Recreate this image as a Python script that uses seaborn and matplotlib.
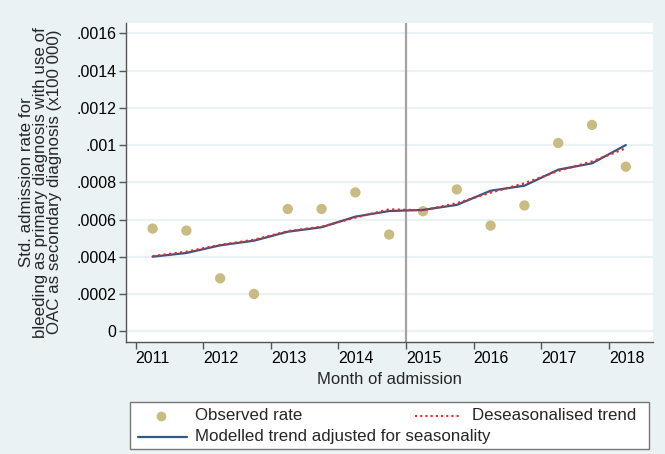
import numpy as np
import pandas as pd
import matplotlib
matplotlib.use("Agg")
import matplotlib.pyplot as plt
import matplotlib.transforms as mtrans
import seaborn as sns
from matplotlib.lines import Line2D
from matplotlib.patches import Rectangle

# ---- data ----
time = [2011.25, 2011.75, 2012.25, 2012.75, 2013.25, 2013.75, 2014.25, 2014.75,
        2015.25, 2015.75, 2016.25, 2016.75, 2017.25, 2017.75, 2018.25]
observed = [0.000552, 0.000541, 0.000285, 0.000201, 0.000657, 0.000657, 0.000746, 0.000520,
            0.000645, 0.000762, 0.000568, 0.000676, 0.001011, 0.001108, 0.000884]
modelled = [0.000401, 0.000421, 0.000462, 0.000487, 0.000535, 0.000559, 0.000616, 0.000646,
            0.000652, 0.000679, 0.000755, 0.000782, 0.000868, 0.000902, 0.001000]
deseason = [0.000404, 0.000428, 0.000464, 0.000492, 0.000538, 0.000562, 0.000611, 0.000655,
            0.000650, 0.000688, 0.000745, 0.000795, 0.000861, 0.000912, 0.000983]
year_ticks = [2011, 2012, 2013, 2014, 2015, 2016, 2017, 2018]
y_ticks = [0, 0.0002, 0.0004, 0.0006, 0.0008, 0.001, 0.0012, 0.0014, 0.0016]
y_tick_labels = ["0", ".0002", ".0004", ".0006", ".0008", ".001", ".0012", ".0014", ".0016"]
break_year = 2015

df = pd.DataFrame({"time": time, "observed": observed,
                   "modelled": modelled, "deseason": deseason})

sns.set_theme(style="white")
plt.rcParams['font.family'] = ['Liberation Sans', 'DejaVu Sans']

BG = "#EAF2F3"
MARK = "#C9BC82"
BLUE = "#2F5A86"
RED = "#FF2020"

fig = plt.figure(figsize=(6.65, 4.54), dpi=100, facecolor=BG)
ax = fig.add_axes([126/665, 1 - 341.5/454, (653-126)/665, (341.5-23)/454])
ax.set_facecolor("white")

for yt in y_ticks:
    ax.axhline(yt, color=BG, lw=1.6, zorder=0)
ax.axvline(break_year, color="#A3A3A3", lw=1.6, zorder=1)

sns.scatterplot(data=df, x="time", y="observed", ax=ax, color=MARK, s=55,
                edgecolor="none", zorder=3, legend=False)
sns.lineplot(data=df, x="time", y="modelled", ax=ax, color=BLUE, lw=1.6,
             zorder=4, legend=False)
sns.lineplot(data=df, x="time", y="deseason", ax=ax, color=RED, lw=1.6,
             linestyle=(0, (1, 1.5)), zorder=5, legend=False)

ax.set_xlim(2010.857, 2018.652)
ax.set_ylim(-0.000054, 0.001655)
ax.set_yticks(y_ticks)
ax.set_yticklabels(y_tick_labels)
ax.set_xticks(year_ticks)
ax.set_xticklabels([str(y) for y in year_ticks], ha="left")
offset = mtrans.ScaledTranslation(-0.5/72, 0, fig.dpi_scale_trans)
for lab in ax.get_xticklabels():
    lab.set_transform(lab.get_transform() + offset)

ax.tick_params(axis="both", which="major", direction="out", length=5, width=1,
               color="#555555", labelsize=11.5, labelcolor="black", pad=2,
               left=True, bottom=True)
for side in ["top", "right"]:
    ax.spines[side].set_visible(False)
for side in ["left", "bottom"]:
    ax.spines[side].set_color("#555555")
    ax.spines[side].set_linewidth(1)

ax.set_xlabel("Month of admission", fontsize=12, labelpad=4)
ax.set_ylabel("Std. admission rate for\nbleeding as primary diagnosis with use of\nOAC as secondary diagnosis (x100 000)",
              fontsize=12.2, linespacing=0.92, labelpad=10)

# ---- legend (manual, Stata style) ----
def fx(px):
    return px / 665
def fy(py):
    return 1 - py / 454

fig.patches.append(Rectangle((fx(130), fy(449)), fx(649) - fx(130), fy(402) - fy(449),
                             transform=fig.transFigure, facecolor="white",
                             edgecolor="#777777", lw=1, zorder=1))
r1, r2 = 416, 437
fig.lines.append(Line2D([fx(161)], [fy(r1)], transform=fig.transFigure, marker="o",
                        ms=7, color=MARK, mec="none", ls="none", zorder=2))
fig.text(fx(195), fy(r1), "Observed rate", fontsize=12.2, va="center", ha="left", zorder=2)
fig.lines.append(Line2D([fx(415), fx(461)], [fy(r1), fy(r1)], transform=fig.transFigure,
                        color=RED, lw=1.5, ls=(0, (1, 1.5)), zorder=2))
fig.text(fx(472), fy(r1), "Deseasonalised trend", fontsize=12.2, va="center", ha="left", zorder=2)
fig.lines.append(Line2D([fx(138), fx(187)], [fy(r2), fy(r2)], transform=fig.transFigure,
                        color=BLUE, lw=1.6, zorder=2))
fig.text(fx(195), fy(r2), "Modelled trend adjusted for seasonality", fontsize=12.2,
         va="center", ha="left", zorder=2)

fig.savefig("out.png", dpi=100, facecolor=BG)
